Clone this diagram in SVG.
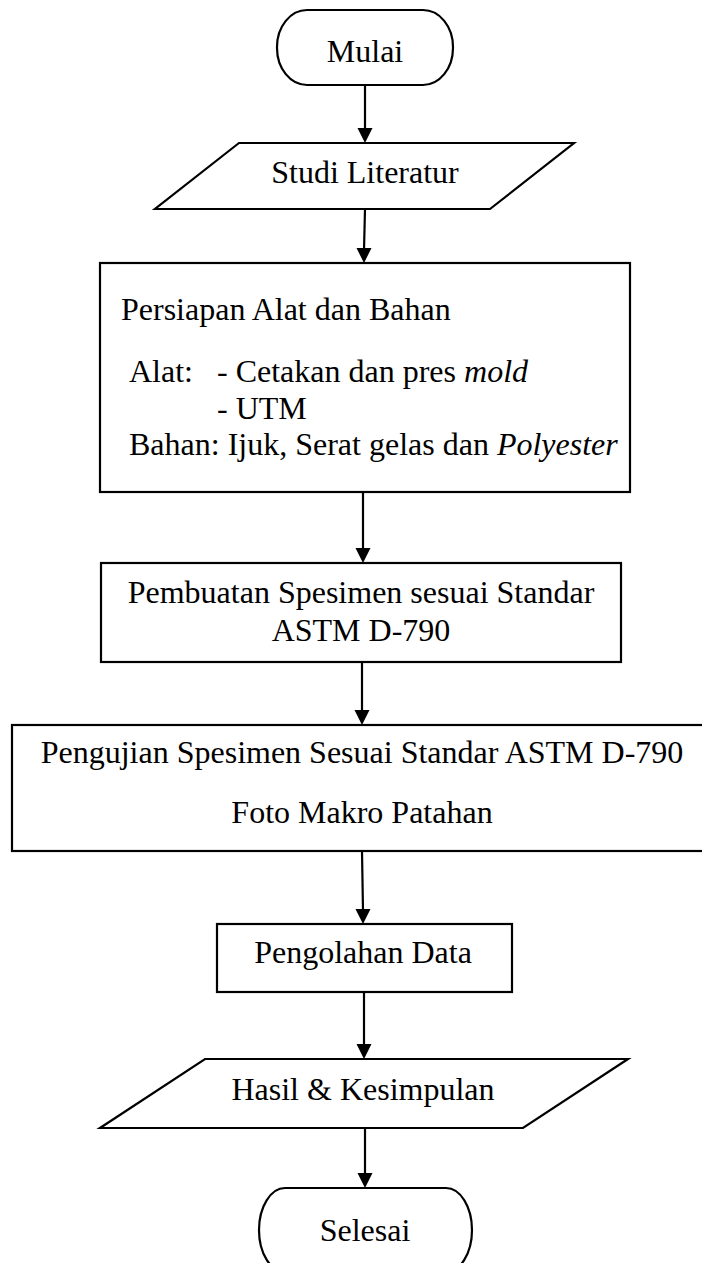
<svg xmlns="http://www.w3.org/2000/svg" width="702" height="1263" viewBox="0 0 702 1263">
<defs>
<style>
.s{fill:#fff;stroke:#000;stroke-width:2.2}
.t{font-family:"Liberation Serif","Times New Roman",serif;font-size:32px;fill:#000}
.c{text-anchor:middle}
.i{font-style:italic}
.e{stroke:#000;stroke-width:2.2;fill:none}
.h{fill:#000}
</style>
</defs>
<rect width="702" height="1263" fill="#fff"/>
<g id="connectors">
<line class="e" x1="365" y1="85" x2="365" y2="130"/>
<line class="e" x1="365" y1="209" x2="364" y2="250"/>
<line class="e" x1="363" y1="492" x2="363" y2="550"/>
<line class="e" x1="362" y1="662" x2="362" y2="712"/>
<line class="e" x1="362" y1="851" x2="363" y2="911"/>
<line class="e" x1="364" y1="992" x2="364" y2="1046"/>
<line class="e" x1="365" y1="1128" x2="365" y2="1175"/>
<path class="h" d="M357.5,128 L372.5,128 L365,143 Z M356.5,248 L371.5,248 L364,263 Z M355.5,548 L370.5,548 L363,563 Z M354.5,710 L369.5,710 L362,725 Z M355.5,909 L370.5,909 L363,924 Z M356.5,1044 L371.5,1044 L364,1059 Z M357.5,1173 L372.5,1173 L365,1188 Z"/>
</g>
<g id="mulai">
<rect class="s" x="277" y="10" width="176" height="75" rx="30" ry="37"/>
<text class="t c" x="365" y="62">Mulai</text>
</g>
<g id="studi">
<polygon class="s" points="239,143 574,143 490,209 155,209"/>
<text class="t c" x="365" y="183">Studi Literatur</text>
</g>
<g id="persiapan">
<rect class="s" x="100" y="263" width="530" height="229"/>
<text class="t" x="121" y="320">Persiapan Alat dan Bahan</text>
<text class="t" x="129" y="382">Alat:</text>
<text class="t" x="217" y="382">- Cetakan dan pres <tspan class="i">mold</tspan></text>
<text class="t" x="217" y="419">- UTM</text>
<text class="t" x="129" y="455">Bahan: Ijuk, Serat gelas dan <tspan class="i">Polyester</tspan></text>
</g>
<g id="pembuatan">
<rect class="s" x="101" y="563" width="520" height="99"/>
<text class="t c" x="361" y="603">Pembuatan Spesimen sesuai Standar</text>
<text class="t c" x="361" y="641">ASTM D-790</text>
</g>
<g id="pengujian">
<rect class="s" x="12" y="725" width="700" height="126"/>
<text class="t c" x="362" y="763">Pengujian Spesimen Sesuai Standar ASTM D-790</text>
<text class="t c" x="362" y="823">Foto Makro Patahan</text>
</g>
<g id="pengolahan">
<rect class="s" x="217" y="924" width="295" height="68"/>
<text class="t c" x="363" y="963">Pengolahan Data</text>
</g>
<g id="hasil">
<polygon class="s" points="205,1059 628,1059 523,1128 100,1128"/>
<text class="t c" x="363" y="1100">Hasil &amp; Kesimpulan</text>
</g>
<g id="selesai">
<rect class="s" x="259" y="1188" width="213" height="84" rx="26" ry="42"/>
<text class="t c" x="365" y="1241">Selesai</text>
</g>
</svg>
